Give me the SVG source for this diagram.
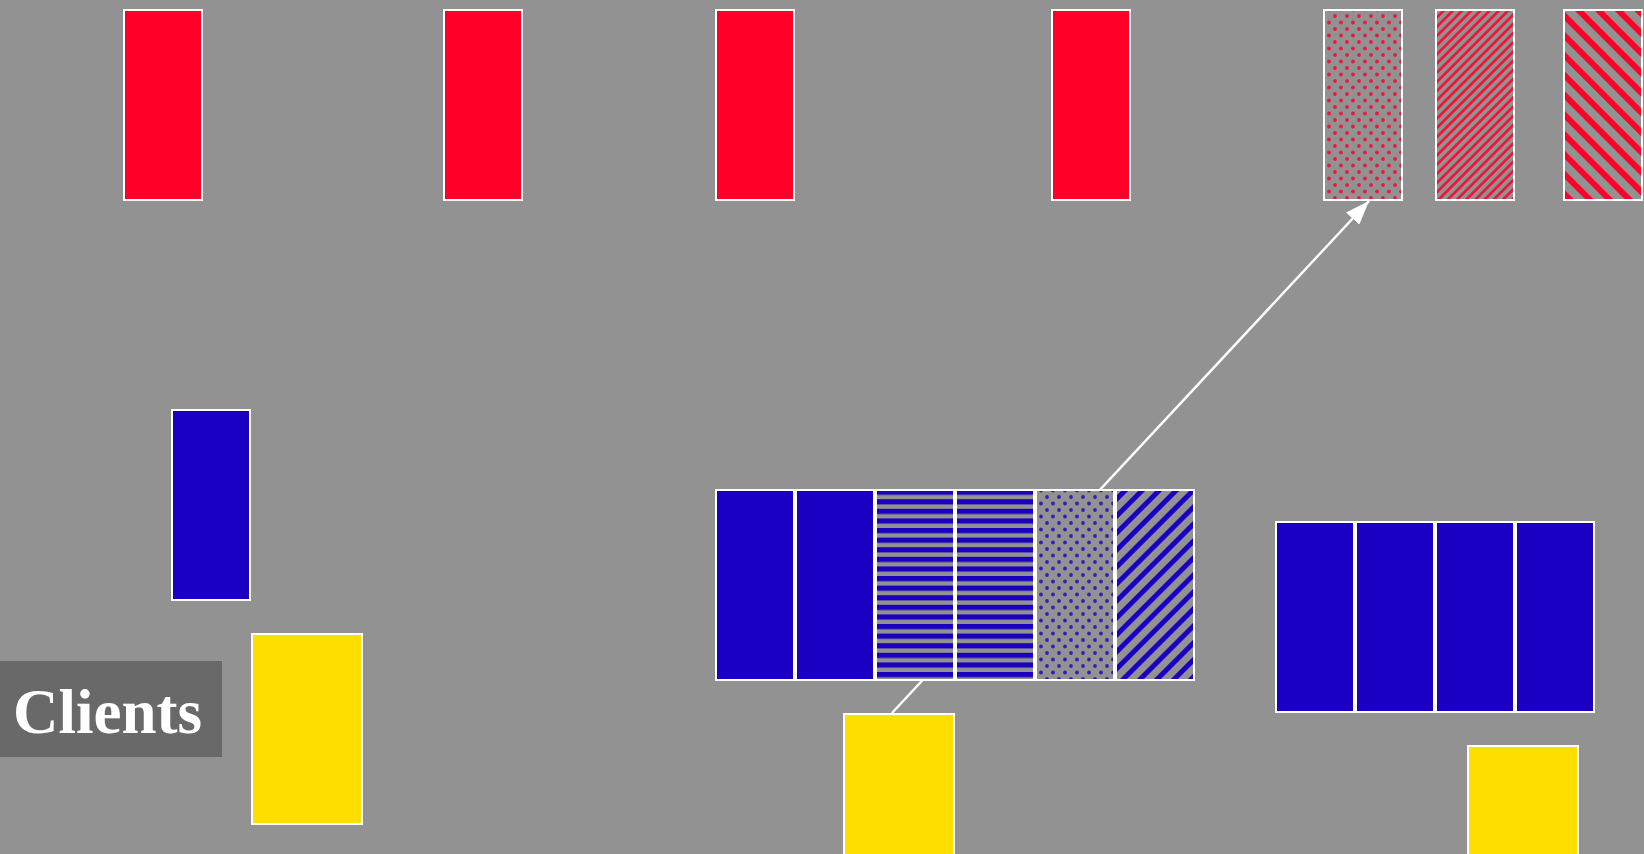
<svg xmlns="http://www.w3.org/2000/svg" width="1644" height="854" viewBox="0 0 1644 854">
<style>
.n{stroke:#fff;stroke-width:2}
.red{fill:#ff0029}
.blue{fill:#1a00c2}
.yel{fill:#ffde00}
.conn{stroke:#fff;stroke-width:2.4;fill:none}
.lbl{font-family:"Liberation Serif","Times New Roman",serif;font-weight:bold;font-size:63px;fill:#fff}
</style>
<defs>
<pattern id="hB" width="10" height="9.6" patternUnits="userSpaceOnUse">
<rect width="10" height="9.6" fill="#929292"/><rect y="0" width="10" height="5.2" fill="#1a00c2"/>
</pattern>
<pattern id="dB" width="12" height="13" patternUnits="userSpaceOnUse">
<rect width="12" height="13" fill="#929292"/><circle cx="3" cy="3" r="1.9" fill="#1a00c2" fill-opacity="0.8"/><circle cx="9" cy="9.5" r="1.9" fill="#1a00c2" fill-opacity="0.8"/>
</pattern>
<pattern id="dR" width="12" height="13" patternUnits="userSpaceOnUse">
<rect width="12" height="13" fill="#929292"/><circle cx="3" cy="3" r="1.9" fill="#ff0029" fill-opacity="0.85"/><circle cx="9" cy="9.5" r="1.9" fill="#ff0029" fill-opacity="0.85"/>
</pattern>
<pattern id="sB" width="12" height="12" patternUnits="userSpaceOnUse" patternTransform="rotate(45)">
<rect width="12" height="12" fill="#929292"/><rect width="5" height="12" fill="#1a00c2"/>
</pattern>
<pattern id="sR" width="6.5" height="6.5" patternUnits="userSpaceOnUse" patternTransform="rotate(45)">
<rect width="6.5" height="6.5" fill="#929292"/><rect width="2.8" height="6.5" fill="#ff0029" fill-opacity="0.85"/>
</pattern>
<pattern id="bR" width="14" height="14" patternUnits="userSpaceOnUse" patternTransform="rotate(-45)">
<rect width="14" height="14" fill="#929292"/><rect width="6" height="14" fill="#ff0029"/>
</pattern>
<marker id="arr" markerUnits="userSpaceOnUse" markerWidth="24" markerHeight="18" refX="24" refY="9" orient="auto">
<path d="M0,0 L24,9 L0,18 z" fill="#fff"/>
</marker>
</defs>
<rect width="1644" height="854" fill="#929292"/>
<g id="connectors">
<line class="conn" x1="892" y1="713" x2="1369" y2="201" marker-end="url(#arr)"/>
</g>
<g id="r1"><rect class="n red" x="124" y="10" width="78" height="190"/></g>
<g id="r2"><rect class="n red" x="444" y="10" width="78" height="190"/></g>
<g id="r3"><rect class="n red" x="716" y="10" width="78" height="190"/></g>
<g id="r4"><rect class="n red" x="1052" y="10" width="78" height="190"/></g>
<g id="r5"><rect class="n" fill="url(#dR)" x="1324" y="10" width="78" height="190"/></g>
<g id="r6"><rect class="n" fill="url(#sR)" x="1436" y="10" width="78" height="190"/></g>
<g id="r7"><rect class="n" fill="url(#bR)" x="1564" y="10" width="78" height="190"/></g>
<g id="b0"><rect class="n blue" x="172" y="410" width="78" height="190"/></g>
<g id="bg1">
<rect class="n blue" x="716" y="490" width="78" height="190"/>
<rect class="n blue" x="796" y="490" width="78" height="190"/>
<rect class="n" fill="url(#hB)" x="876" y="490" width="78" height="190"/>
<rect class="n" fill="url(#hB)" x="956" y="490" width="78" height="190"/>
<rect class="n" fill="url(#dB)" x="1036" y="490" width="78" height="190"/>
<rect class="n" fill="url(#sB)" x="1116" y="490" width="78" height="190"/>
</g>
<g id="bg2">
<rect class="n blue" x="1276" y="522" width="78" height="190"/>
<rect class="n blue" x="1356" y="522" width="78" height="190"/>
<rect class="n blue" x="1436" y="522" width="78" height="190"/>
<rect class="n blue" x="1516" y="522" width="78" height="190"/>
</g>
<g id="y1"><rect class="n yel" x="252" y="634" width="110" height="190"/></g>
<g id="y2"><rect class="n yel" x="844" y="714" width="110" height="190"/></g>
<g id="y3"><rect class="n yel" x="1468" y="746" width="110" height="190"/></g>
<g id="clients">
<rect x="0" y="661" width="222" height="96" fill="#696969"/>
<text class="lbl" x="13" y="733">Clients</text>
</g>
</svg>
